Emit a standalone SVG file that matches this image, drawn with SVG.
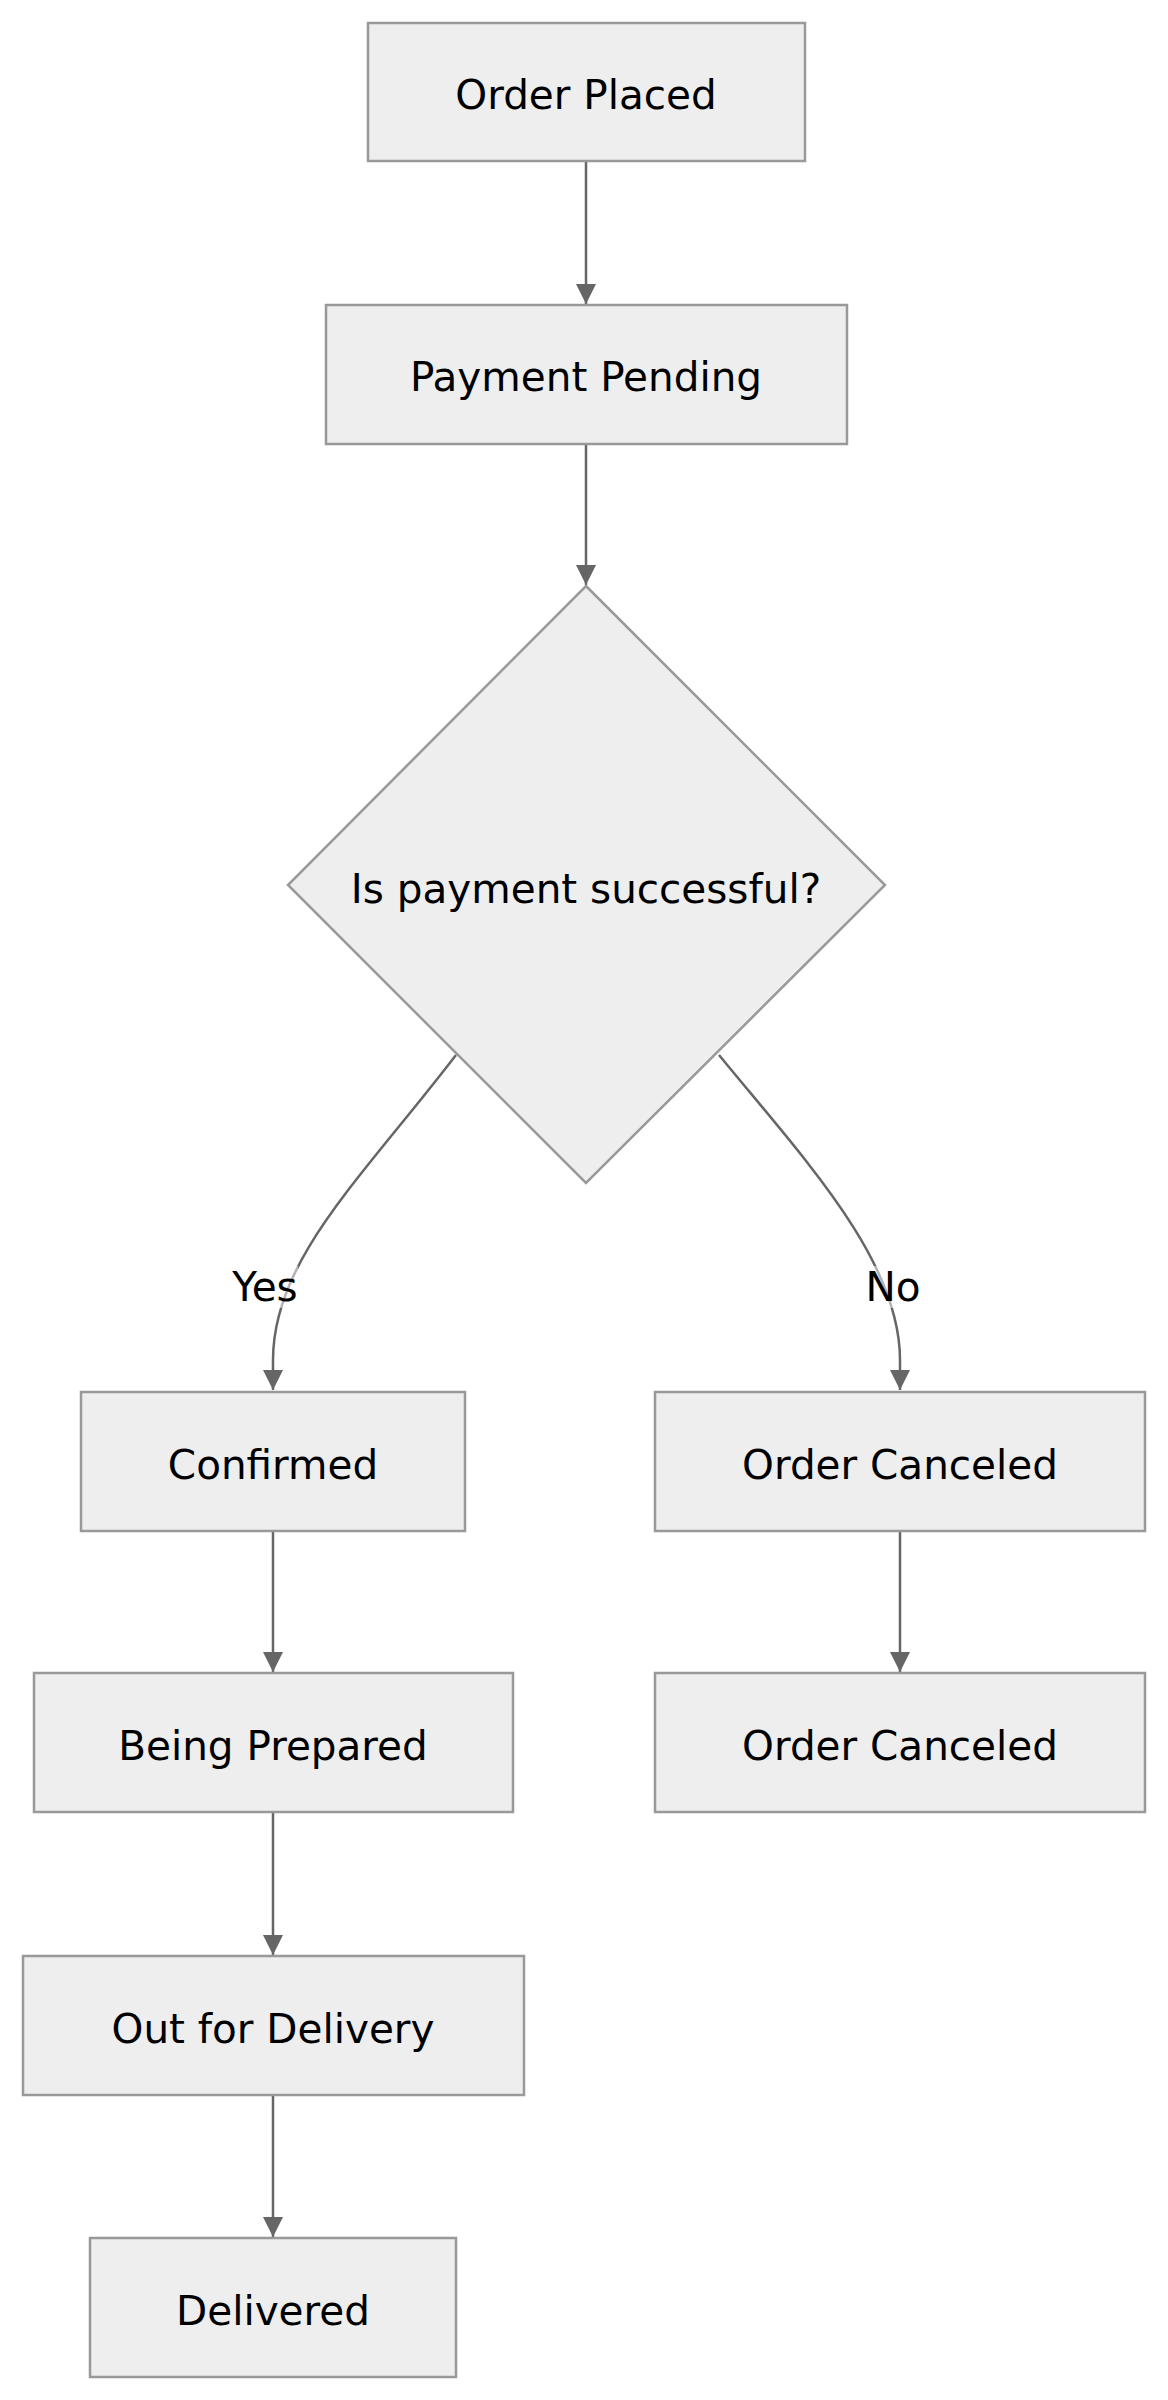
<svg xmlns="http://www.w3.org/2000/svg" width="1168" height="2400" viewBox="0 0 1168 2400">
<defs>
<style>
.n{fill:#eeeeee;stroke:#999999;stroke-width:2.5}
.t{font-family:"DejaVu Sans",sans-serif;font-size:40.5px;fill:#000;text-anchor:middle;dominant-baseline:central}
.e{fill:none;stroke:#666666;stroke-width:2.5}
.lb{fill:#ffffff;fill-opacity:0.5}
</style>
<marker id="ah" viewBox="0 0 10 10" refX="10" refY="5" markerWidth="20" markerHeight="20" markerUnits="userSpaceOnUse" orient="auto">
<path d="M0,0 L10,5 L0,10 z" fill="#666666"/>
</marker>
</defs>
<rect width="1168" height="2400" fill="#ffffff"/>
<g id="connectors">
<path class="e" d="M586,161 L586,304" marker-end="url(#ah)"/>
<path class="e" d="M586,444 L586,585" marker-end="url(#ah)"/>
<path class="e" d="M456,1055 C360,1180 273,1260 273,1360 L273,1390" marker-end="url(#ah)"/>
<path class="e" d="M719,1055 C805,1160 900,1260 900,1360 L900,1390" marker-end="url(#ah)"/>
<path class="e" d="M273,1531 L273,1672" marker-end="url(#ah)"/>
<path class="e" d="M900,1531 L900,1672" marker-end="url(#ah)"/>
<path class="e" d="M273,1812 L273,1955" marker-end="url(#ah)"/>
<path class="e" d="M273,2094 L273,2237" marker-end="url(#ah)"/>
<g id="label-yes"><rect class="lb" x="232" y="1266" width="66" height="42"/><text class="t" x="265" y="1287">Yes</text></g>
<g id="label-no"><rect class="lb" x="866" y="1266" width="54" height="42"/><text class="t" x="893" y="1287">No</text></g>
</g>
<g id="order-placed"><rect class="n" x="368" y="23" width="437" height="138"/><text class="t" x="586" y="95">Order Placed</text></g>
<g id="payment-pending"><rect class="n" x="326" y="305" width="521" height="139"/><text class="t" x="586" y="377">Payment Pending</text></g>
<g id="decision"><polygon class="n" points="586,586 885,885 586,1183 288,885"/><text class="t" x="586" y="889">Is payment successful?</text></g>
<g id="confirmed"><rect class="n" x="81" y="1392" width="384" height="139"/><text class="t" x="273" y="1465">Confirmed</text></g>
<g id="order-canceled-1"><rect class="n" x="655" y="1392" width="490" height="139"/><text class="t" x="900" y="1465">Order Canceled</text></g>
<g id="being-prepared"><rect class="n" x="34" y="1673" width="479" height="139"/><text class="t" x="273" y="1746">Being Prepared</text></g>
<g id="order-canceled-2"><rect class="n" x="655" y="1673" width="490" height="139"/><text class="t" x="900" y="1746">Order Canceled</text></g>
<g id="out-for-delivery"><rect class="n" x="23" y="1956" width="501" height="139"/><text class="t" x="273" y="2029">Out for Delivery</text></g>
<g id="delivered"><rect class="n" x="90" y="2238" width="366" height="139"/><text class="t" x="273" y="2311">Delivered</text></g>
</svg>
